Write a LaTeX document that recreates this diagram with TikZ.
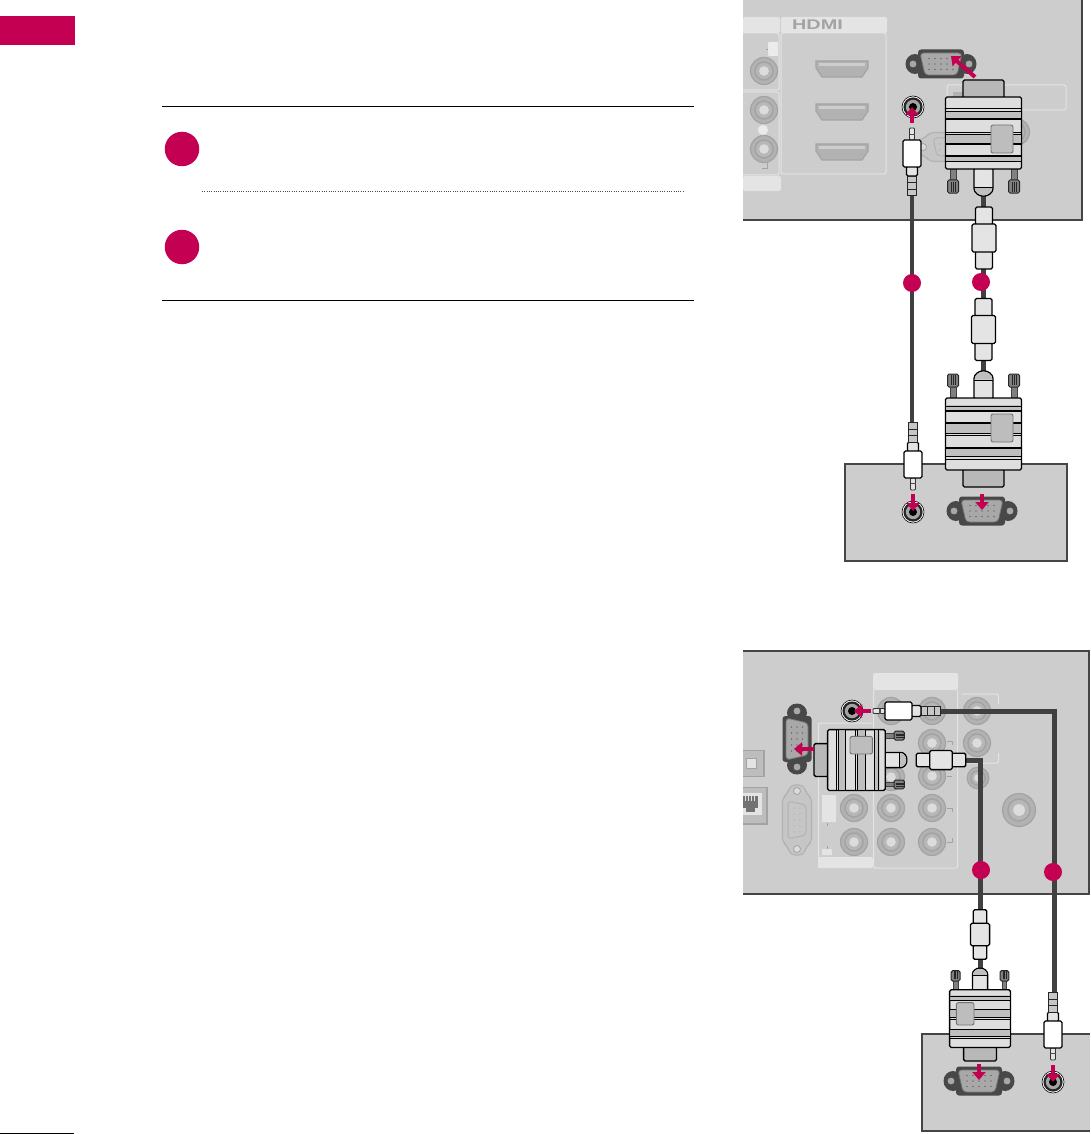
\documentclass[tikz,border=0pt]{standalone}
\usepackage{xcolor}
\usepackage{fontspec}
\setsansfont{Liberation Sans}
\usetikzlibrary{arrows.meta, positioning}
\definecolor{lgpink}{HTML}{C30052}
\definecolor{panelgray}{HTML}{CDCDCD}
\definecolor{panelline}{HTML}{454545}
\definecolor{boxlight}{HTML}{E4E4E4}
\definecolor{ringgray}{HTML}{B2B2B2}
\definecolor{ringline}{HTML}{A3A3A3}
\definecolor{wiredark}{HTML}{404040}
\definecolor{porthull}{HTML}{484848}
\definecolor{portface}{HTML}{A8A8A8}
\definecolor{fadedhull}{HTML}{C2C2C2}
\definecolor{fadedface}{HTML}{C6C6C6}

\begin{document}
\begin{tikzpicture}[
    x=1pt, y=-1pt,
    panel/.style={fill=panelgray},
    panelrim/.style={draw=panelline, line width=2pt},
    lightbox/.style={draw=boxlight, line width=1pt, rounded corners=2pt},
    lightfill/.style={fill=boxlight, rounded corners=2pt},
    rule/.style={draw=black, line width=1pt},
    stepdot/.style={circle, fill=lgpink, inner sep=0pt, minimum size=34.5pt},
    cabledot/.style={circle, fill=lgpink, inner sep=0pt, minimum size=18pt},
    cable/.style={draw=wiredark, line width=4pt},
    fatcable/.style={draw=wiredark, line width=5pt},
    pinkarrow/.style={draw=lgpink, line width=4pt, -{Triangle[width=13pt,length=8pt]}},
    hdmitext/.style={text=ringline, inner sep=0pt, font=\sffamily\bfseries\fontsize{14}{14}\selectfont},
    plugpart/.style={draw=black, line width=1.3pt, rounded corners=1.5pt},
    rcajack/.pic={
        \fill[ringgray] (0,0) circle (13.5);
        \draw[ringline, line width=1.2pt] (0,0) circle (13.5);
        \draw[ringline, fill=ringgray!80!panelgray, line width=1.5pt] (0,0) circle (9);
        \fill[panelgray!70!white] (0,0) circle (4.8);
    },
    hdmiport/.pic={
        \draw[fill=ringgray, draw=ringline, line width=1.2pt] (-26,-8) -- (26,-8) -- (26,-1) -- (20,8) -- (-20,8) -- (-26,-1) -- cycle;
        \fill[panelgray] (-23,-5.5) rectangle (23,-3);
    },
    audioport/.pic={
        \draw[fill=white, draw=black, line width=0.6pt] (0,0) circle (11);
        \fill[black!85] (0,0) circle (9.6);
        \fill[panelgray!80!black] (0,0) circle (7.2);
        \fill[black] (0,0) circle (4);
    },
    vgaport/.pic={
        \fill[porthull, rounded corners=3pt] (-23,-14.5) rectangle (23,14.5);
        \fill[porthull] (-26,0) ellipse (9.5 and 10) (26,0) ellipse (9.5 and 10);
        \draw[fill=portface, draw=portface!70!black, line width=0.8pt, rounded corners=3.5pt] (-21,-11) -- (21,-11) -- (16,11) -- (-16,11) -- cycle;
        \draw[fill=portface, draw=porthull, line width=0.8pt] (-28,0) circle (4) (28,0) circle (4);
        \foreach \dx in {-12,-6,0,6,12} \foreach \dy in {-5.5,0,5.5} \fill[portface!40!black] (\dx,\dy) circle (0.7);
    },
    fadedport/.pic={
        \draw[fill=fadedface, draw=ringgray, line width=1.2pt, rounded corners=4pt] (-26,-10) -- (-22,-14.5) -- (22,-14.5) -- (26,-10) -- (35,-6) -- (35,6) -- (26,10) -- (22,14.5) -- (-22,14.5) -- (-26,10) -- (-35,6) -- (-35,-6) -- cycle;
        \draw[draw=ringgray, line width=1pt, rounded corners=3.5pt] (-19,-9) -- (19,-9) -- (15,9) -- (-15,9) -- cycle;
        \draw[fill=panelgray!70!white, draw=ringline, line width=0.8pt] (-29,0) circle (3.5) (29,0) circle (3.5);
        \foreach \dx in {-12,-6,0,6,12} \foreach \dy in {-3,3} \fill[ringline] (\dx,\dy) circle (0.7);
    },
    vgaplug/.pic={
        \draw[plugpart, fill=panelgray!90!black] (-20.5,0) rectangle (20.5,18);
        % thumb screws
        \foreach \sx in {-30.5,30.5} {
            \draw[fill=black!50, draw=black!75, line width=0.8pt] (\sx-3,88) rectangle (\sx+3,101);
            \draw[fill=black!50, draw=black!85, line width=1pt, rounded corners=1.5pt] (\sx-5.5,100) rectangle (\sx+5.5,113);
            \draw[black!85, line width=0.5pt] (\sx-2,102) -- (\sx-2,112) (\sx,102) -- (\sx,112) (\sx+2,102) -- (\sx+2,112);
        }
        \draw[plugpart, fill=boxlight] (-9.5,88) -- (-9.5,107) .. controls (-9.5,113) and (-4,116) .. (0,116) .. controls (4,116) and (9.5,113) .. (9.5,107) -- (9.5,88) -- cycle;
        \fill[black!25] (-8.8,107.5) .. controls (-8.5,112.5) and (-4,115.3) .. (0,115.3) .. controls (4,115.3) and (8.5,112.5) .. (8.8,107.5) -- cycle;
        \draw[black, line width=0.8pt] (-9.5,107) -- (9.5,107);
        \draw[plugpart, fill=black!13] (-38,17) rectangle (38,89);
        \fill[black!25] (-37,31) rectangle (37,39) (-37,54) rectangle (37,64) (-37,76) rectangle (37,82);
        \foreach \ry/\rw in {28/0.7,31/0.7,39/1.1,52/0.7,54/0.7,64/1.1,76/1.1,81/0.7}
            \draw[black, line width=\rw pt] (-38,\ry) -- (38,\ry);
        \draw[draw=black!55, fill=black!26, line width=0.9pt, rounded corners=2pt] (7.5,45) rectangle (29.5,73);
    },
    ferrite/.pic={
        \draw[plugpart, fill=boxlight] (-8.5,-31) rectangle (8.5,-13);
        \draw[plugpart, fill=boxlight] (-8.5,13) rectangle (8.5,31);
        \draw[plugpart, fill=boxlight] (-12,-14) rectangle (12,14);
    },
    minijack/.pic={
        \draw[draw=black!80, fill=boxlight, line width=0.9pt, rounded corners=1pt] (-2.5,0) rectangle (2.5,12);
        \fill[black!70] (-2.5,6) rectangle (2.5,7.5);
        \draw[plugpart, fill=boxlight] (-5.5,38) rectangle (5.5,48);
        \foreach \ry in {48,54.5,61}
            \draw[draw=black!85, fill=black!22, line width=0.9pt] (-4.5,\ry) rectangle (4.5,\ry+6.5);
        \draw[plugpart, fill=white] (-9,12) rectangle (9,39);
    }
]
\useasboundingbox (0,0) rectangle (1090,1134);
\fill[white] (0,0) rectangle (1090,1134);

% Page tab and rules
\fill[lgpink] (0,16) rectangle (75,45);
\draw[rule] (0,1133) -- (74,1133);
\draw[rule] (162,106.5) -- (694,106.5);
\draw[rule] (162,300) -- (694,300);
\node[stepdot] (stepone) at (182,149) {};
\node[stepdot] (steptwo) at (182,247) {};
\draw[black!70, line width=0.7pt, dash pattern=on 0.8pt off 1.5pt] (202,191) -- (685,191);

% Panel A, HDMI side
\fill[panel] (743,0) rectangle (1082,220);
\draw[panelrim] (1082,0) -- (1082,220) -- (743,220);
\fill[lightfill] (743,17) rectangle (780,33);
\fill[lightfill] (781,17) rectangle (887,33);
\fill[lightfill] (743,176) rectangle (781,191);
\draw[lightbox] (743,33) -- (779,33) -- (779,90) -- (743,90);
\draw[lightbox] (743,92) -- (779,92) -- (779,175) -- (743,175);
\draw[lightbox] (781,33) rectangle (886,174);
\node[hdmitext] (hdmilabel) at (817.5,24.5) {\scalebox{1.42}[1]{HDMI}};
\pic at (764,71) {rcajack};
\pic at (764,110) {rcajack};
\pic at (764,149) {rcajack};
\fill[panelgray!40!white, rounded corners=1pt] (768,42) rectangle (778,56);
\fill[panelgray!40!white] (763,130) circle (5);
\draw[ringline, line width=0.6pt] (766,49) -- (768,49) (762,168) -- (767,168) -- (767,163);
\pic at (842,69) {hdmiport};
\pic at (842,112) {hdmiport};
\pic at (842,152) {hdmiport};
\draw[lightbox] (947,85) rectangle (1066,110);
\fill[ringgray] (953,92) rectangle (963,97);
\pic at (1016,132) {rcajack};
\pic at (952,147) {fadedport};
\pic at (941,64) {vgaport};
\pic at (913,107) {audioport};
\coordinate (audiotailA) at (912,123);
\coordinate (audioheadA) at (912,107);
\coordinate (vgatailA) at (975,77);
\coordinate (vgaheadA) at (951,56);
\draw[pinkarrow] (audiotailA) -- (audioheadA);
\draw[pinkarrow] (vgatailA) -- (vgaheadA);

% Panel B, PC side
\draw[panelrim, panel] (845,464) rectangle (1067,561);
\pic at (982,511) {vgaport};
\pic at (913,512) {audioport};

% Cables of the first picture
\coordinate (audiotopA) at (912,190);
\coordinate (audiobotA) at (912,425);
\coordinate (vgatopA) at (983,190);
\coordinate (vgabotA) at (983,378);
\draw[cable] (audiotopA) -- (audiobotA);
\draw[fatcable] (vgatopA) -- (vgabotA);
\pic at (912,128) {minijack};
\pic[rotate=180] at (913,490) {minijack};
\pic at (983.5,80) {vgaplug};
\pic[yscale=-1] at (983.5,487) {vgaplug};
\pic at (984,238) {ferrite};
\pic at (983.5,329.5) {ferrite};
\node[cabledot] (audiodotA) at (912,283) {};
\node[cabledot] (vgadotA) at (981,282) {};
\coordinate (vgatailB) at (982,494);
\coordinate (vgaheadB) at (982,510);
\coordinate (audiotailB) at (913,494);
\coordinate (audioheadB) at (913,511);
\draw[pinkarrow] (vgatailB) -- (vgaheadB);
\draw[pinkarrow] (audiotailB) -- (audioheadB);

% Panel C, RGB side
\fill[panel] (743,651) rectangle (1089,894);
\draw[panelrim] (743,651) -- (1089,651) -- (1089,894) -- (743,894);
\fill[lightfill] (873,673) rectangle (958,690);
\fill[lightfill] (818,857) rectangle (873,868);
\draw[lightbox] (873.5,690) -- (873.5,868) -- (957.5,868) -- (957.5,690);
\draw[lightbox] (873,723) -- (818.5,723) -- (818.5,868);
\draw[lightbox] (962,694) -- (998.5,694) -- (998.5,704);
\draw[lightbox] (962,763) -- (998.5,763) -- (998.5,753);
\fill[boxlight] (822,795) rectangle (836,822) (822,849) rectangle (832,855);
\draw[ringline, line width=0.6pt] (827,823) -- (827,826) (827,846) -- (827,849);
\draw[ringline, line width=0.6pt] (947,741) -- (952,741) -- (952,745) (947,776) -- (952,776) (947,808) -- (952,808) -- (952,812) (947,842) -- (952,842) -- (952,838);
\pic at (854,808) {rcajack};
\pic at (854,842) {rcajack};
\foreach \ry in {711,777,808,842} \pic at (891,\ry) {rcajack};
\foreach \ry in {711,743,776,808,842} \pic at (932,\ry) {rcajack};
\pic at (977,711) {rcajack};
\pic at (977,743) {rcajack};
\pic[scale=0.8] at (978,778) {rcajack};
\pic[scale=1.22] at (1019,810) {rcajack};
% optical and LAN
\draw[ringline, fill=panelgray!92!black, line width=1.2pt] (743,750.5) -- (764,750.5) -- (764,776.5) -- (743,776.5);
\draw[ringline, fill=boxlight, line width=1pt] (746,758) rectangle (756,768);
\draw[ringline, fill=panelgray!92!black, line width=1.2pt] (743,787.5) -- (767,787.5) -- (767,824) -- (743,824);
\fill[boxlight] (743,793) rectangle (762,815);
\fill[black!55] (743,796) rectangle (758,808);
\fill[black!55] (746,808) rectangle (755,812);
\foreach \cx in {745,748,751,754} \draw[boxlight, line width=0.6pt] (\cx,796) -- (\cx,801);
\pic[rotate=90] at (797,820) {fadedport};
\pic[rotate=90] at (797,739) {vgaport};
\pic at (852,711) {audioport};
\coordinate (cornerA) at (1054,711);
\coordinate (cornerB) at (980,760);
\coordinate (audiostartC) at (935,711);
\coordinate (audioendD) at (1054,997);
\coordinate (vgastartC) at (960,760);
\coordinate (vgaendD) at (980,975);

% Panel D, PC side
\fill[panel] (922,1034) rectangle (1090,1131);
\draw[panelline, line width=1.6pt] (1090,1034) -- (922,1034) -- (922,1131) -- (1090,1131);
\pic at (979,1081) {vgaport};
\pic at (1053,1082) {audioport};

% Cables of the second picture
\draw[fatcable] (audiostartC) -- (cornerA) -- (audioendD);
\draw[fatcable] (vgastartC) -- (cornerB) -- (vgaendD);
\pic[rotate=90] at (873,711) {minijack};
\pic[rotate=180] at (1053,1060) {minijack};
\pic[rotate=90, scale=0.8] at (814,760) {vgaplug};
\pic[rotate=180, scale=0.8] at (980,1061) {vgaplug};
\pic[rotate=90, scale=0.8] at (941,760) {ferrite};
\pic[scale=0.8] at (980,934.5) {ferrite};
\node[cabledot] (vgadotC) at (981,870) {};
\node[cabledot] (audiodotC) at (1053,872) {};
\coordinate (audiotailC) at (871,711);
\coordinate (audioheadC) at (854,711);
\coordinate (vgatailC) at (814,749);
\coordinate (vgaheadC) at (794,749);
\coordinate (vgatailD) at (979,1064);
\coordinate (vgaheadD) at (979,1080);
\coordinate (audiotailD) at (1053,1065);
\coordinate (audioheadD) at (1053,1082);
\draw[pinkarrow] (audiotailC) -- (audioheadC);
\draw[pinkarrow] (vgatailC) -- (vgaheadC);
\draw[pinkarrow] (vgatailD) -- (vgaheadD);
\draw[pinkarrow] (audiotailD) -- (audioheadD);
\end{tikzpicture}
\end{document}
